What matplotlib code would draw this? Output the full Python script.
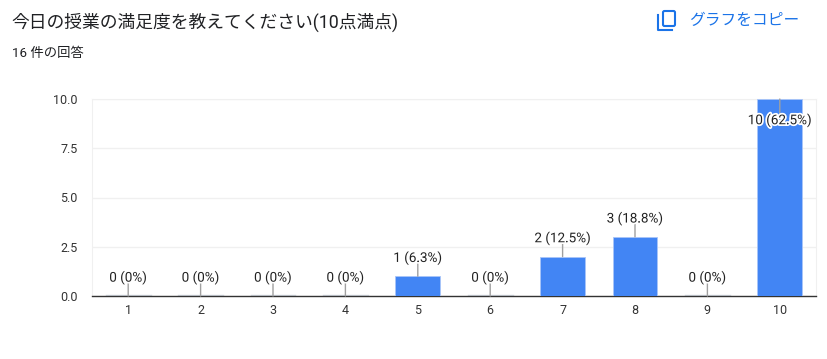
# -*- coding: utf-8 -*-
import matplotlib
matplotlib.use('Agg')
import matplotlib.pyplot as plt
from matplotlib.patches import FancyBboxPatch
from matplotlib.lines import Line2D
import matplotlib.patheffects as pe

plt.rcParams['font.family'] = ['Roboto', 'Noto Sans CJK JP', 'DejaVu Sans']

W, H = 828, 359

categories = ['1', '2', '3', '4', '5', '6', '7', '8', '9', '10']
counts = [0, 0, 0, 0, 1, 0, 2, 3, 0, 10]
percents = ['0%', '0%', '0%', '0%', '6.3%', '0%', '12.5%', '18.8%', '0%', '62.5%']
yticks = [0, 2.5, 5, 7.5, 10]
ytick_labels = ['0.0', '2.5', '5.0', '7.5', '10.0']

title = '今日の授業の満足度を教えてください(10点満点)'
subtitle = '16 件の回答'
copy_label = 'グラフをコピー'

BLUE = '#4285f4'
LINK = '#1a73e8'
TXT = '#202124'

fig = plt.figure(figsize=(W / 100, H / 100), dpi=100, facecolor='white')
ax = fig.add_axes([92 / W, 1 - 296 / H, 724 / W, 197 / H])

x = list(range(len(categories)))
ax.bar(x, counts, width=0.62, color=BLUE, edgecolor='#a9c5f8', linewidth=0.6, zorder=3)
# zero values still get a faint line at the baseline
for i, c in enumerate(counts):
    if c == 0:
        ax.plot([i - 0.31, i + 0.31], [0.03, 0.03], color='#d5dbe3', lw=1, zorder=2)

ax.set_xlim(-0.5, 9.5)
ax.set_ylim(0, 10)
ax.set_xticks(x)
ax.set_xticklabels(categories)
ax.set_yticks(yticks)
ax.set_yticklabels(ytick_labels)
ax.tick_params(axis='both', length=0, labelsize=9, labelcolor='#333333')
ax.tick_params(axis='x', pad=6)
ax.tick_params(axis='y', pad=10.5)
ax.grid(axis='y', color='#f0f0f0', lw=1, zorder=0)
ax.set_axisbelow(True)
for s in ['top', 'left', 'right']:
    ax.spines[s].set_color('#f0f0f0')
ax.spines['bottom'].set_color('#333333')
ax.spines['bottom'].set_linewidth(1)

for i, c in enumerate(counts):
    label = '%d (%s)' % (c, percents[i])
    # the tallest bar has no room above, so its label goes inside
    inside = c == ax.get_ylim()[1]
    stem = -10 if inside else 10
    ax.annotate('', xy=(i, c), xytext=(0, stem), textcoords='offset points',
                arrowprops=dict(arrowstyle='-', color='#a0a0a0', lw=1, shrinkA=0, shrinkB=0),
                zorder=4, annotation_clip=False)
    t = ax.annotate(label, xy=(i, c), xytext=(0, -15.5 if inside else 13),
                    textcoords='offset points', ha='center', va='center',
                    fontsize=9.7, color='#222222', zorder=5, annotation_clip=False)
    t.set_path_effects([pe.withStroke(linewidth=2.5, foreground='white')])

fig.text(11 / W, 1 - 22 / H, title, fontsize=12.8, color=TXT, ha='left', va='center')
fig.text(12 / W, 1 - 54 / H, subtitle, fontsize=9.6, color=TXT, ha='left', va='center')
fig.text(689 / W, 1 - 20 / H, copy_label, fontsize=11.3, color=LINK, ha='left', va='center')

# copy icon
overlay = fig.add_axes([0, 0, 1, 1], facecolor='none')
overlay.set_xlim(0, W)
overlay.set_ylim(H, 0)
overlay.axis('off')
overlay.add_patch(FancyBboxPatch((663, 11), 12, 15, boxstyle='round,pad=0,rounding_size=1.5',
                                 fill=False, edgecolor=LINK, lw=1.5))
overlay.add_line(Line2D([658.5, 658.5, 672], [15, 30, 30], color=LINK, lw=1.5))

fig.savefig('out.png', dpi=100)
